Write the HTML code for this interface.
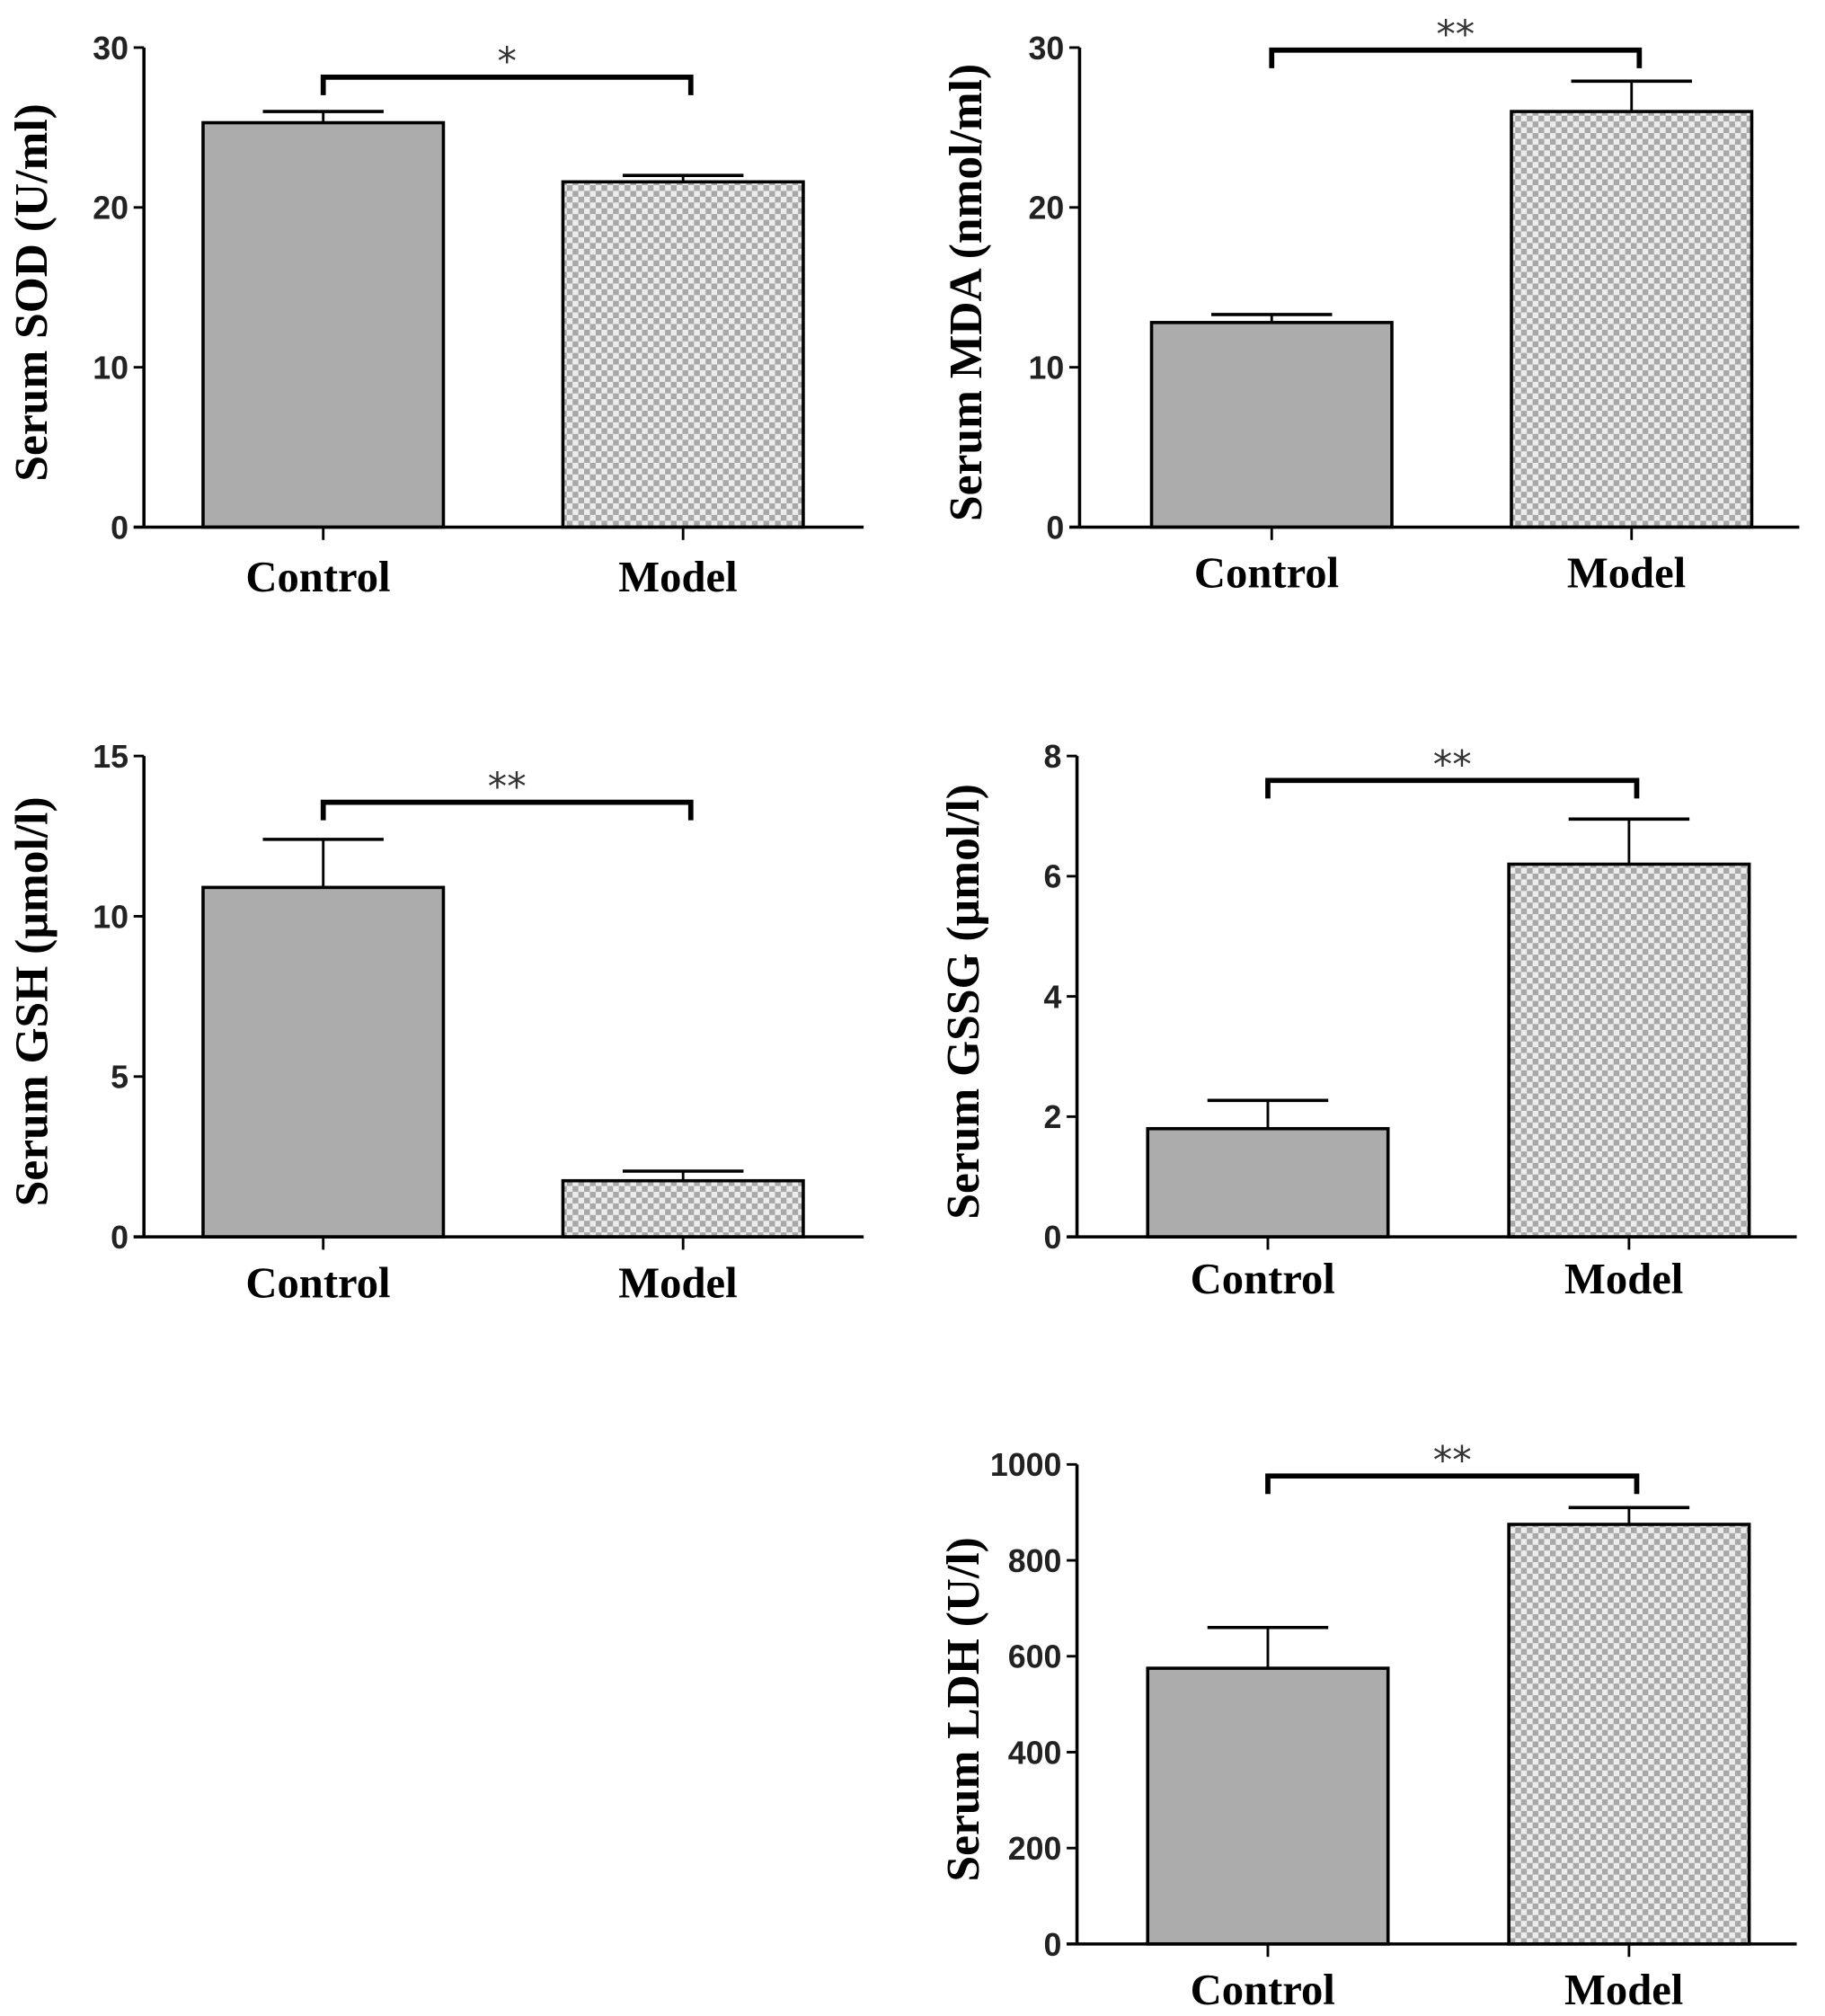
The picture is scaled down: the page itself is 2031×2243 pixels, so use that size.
<!DOCTYPE html>
<html><head><meta charset="utf-8"><style>
html,body{margin:0;padding:0;background:#fff;}
svg{display:block;}
</style></head><body>
<svg id="fig" width="2031" height="2243" viewBox="0 0 1420 1568" preserveAspectRatio="none" xmlns="http://www.w3.org/2000/svg">
<defs>
<pattern id="chk" patternUnits="userSpaceOnUse" width="9" height="9">
<rect width="9" height="9" fill="#ececec"/>
<rect width="4.5" height="4.5" fill="#a8a8a8"/>
<rect x="4.5" y="4.5" width="4.5" height="4.5" fill="#a8a8a8"/>
</pattern>
</defs>
</svg>
<script>
const categories = ["Control", "Model"];
const sodValues = [25.3, 21.6];
const sodErrors = [0.7, 0.4];
const mdaValues = [12.8, 26.0];
const mdaErrors = [0.5, 1.9];
const gshValues = [10.9, 1.75];
const gshErrors = [1.5, 0.3];
const gssgValues = [1.8, 6.2];
const gssgErrors = [0.47, 0.75];
const ldhValues = [575, 875];
const ldhErrors = [85, 35];
const sodTicks = [0, 10, 20, 30];
const mdaTicks = [0, 10, 20, 30];
const gshTicks = [0, 5, 10, 15];
const gssgTicks = [0, 2, 4, 6, 8];
const ldhTicks = [0, 200, 400, 600, 800, 1000];
const significance = ["*", "**", "**", "**", "**"];
const yTitles = ["Serum SOD (U/ml)", "Serum MDA (nmol/ml)", "Serum GSH (\u00b5mol/l)", "Serum GSSG (\u00b5mol/l)", "Serum LDH (U/l)"];

const NS = "http://www.w3.org/2000/svg";
const svg = document.getElementById("fig");
function mk(tag, attrs, parent) {
  const e = document.createElementNS(NS, tag);
  for (const k in attrs) e.setAttribute(k, attrs[k]);
  (parent || svg).appendChild(e);
  return e;
}
const panels = [
  {key:"sod", vals:sodValues, errs:sodErrors, ticks:sodTicks, ax:112, y0:410, yTop:37, bx:[158,438], bracketY:60, titleX:25, labelY:460},
  {key:"mda", vals:mdaValues, errs:mdaErrors, ticks:mdaTicks, ax:840, y0:410, yTop:37, bx:[896,1176], bracketY:39, titleX:752, labelY:457},
  {key:"gsh", vals:gshValues, errs:gshErrors, ticks:gshTicks, ax:112, y0:962, yTop:588, bx:[158,438], bracketY:624, titleX:25, labelY:1009},
  {key:"gssg", vals:gssgValues, errs:gssgErrors, ticks:gssgTicks, ax:838, y0:962, yTop:588, bx:[893,1174], bracketY:607, titleX:750, labelY:1006},
  {key:"ldh", vals:ldhValues, errs:ldhErrors, ticks:ldhTicks, ax:838, y0:1512, yTop:1139, bx:[893,1174], bracketY:1148, titleX:750, labelY:1559}
];
panels.forEach((p, i) => {
  const g = mk("g", {});
  
  
  const maxT = p.ticks[p.ticks.length - 1];
  const yS = v => p.y0 - (v / maxT) * (p.y0 - p.yTop);
  const bw = 187;
  p.vals.forEach((v, j) => {
    const x = p.bx[j];
    const yt = yS(v);
    const ye = yS(v + p.errs[j]);
    const cx = x + bw / 2;
    const el = mk("line", {x1:cx, y1:yt, x2:cx, y2:ye, stroke:"#000", "stroke-width":2}, g);
    
    
    mk("line", {x1:cx - 47, y1:ye, x2:cx + 47, y2:ye, stroke:"#000", "stroke-width":2.5}, g);
    const r = mk("rect", {x:x, y:yt, width:bw, height:p.y0 - yt, fill: j === 0 ? "#acacac" : "url(#chk)", stroke:"#000", "stroke-width":2.5}, g);
    
    
    mk("line", {x1:cx, y1:p.y0, x2:cx, y2:p.y0 + 10, stroke:"#000", "stroke-width":2}, g);
    const lab = mk("text", {x:cx - 4, y:p.labelY, "text-anchor":"middle", "font-family":"Liberation Serif, serif", "font-weight":"bold", "font-size":34}, g);
    lab.textContent = categories[j];
    
    
  });
  const ya = mk("line", {x1:p.ax, y1:p.yTop, x2:p.ax, y2:p.y0 + 1, stroke:"#000", "stroke-width":2.5}, g);
  
  
  const xa = mk("line", {x1:p.ax - 8, y1:p.y0, x2:p.ax + 560, y2:p.y0, stroke:"#000", "stroke-width":2.5}, g);
  
  
  p.ticks.forEach(t => {
    const y = yS(t);
    mk("line", {x1:p.ax - 8, y1:y, x2:p.ax, y2:y, stroke:"#000", "stroke-width":2}, g);
    const tl = mk("text", {x:p.ax - 12, y:y + 9, "text-anchor":"end", "font-family":"Liberation Sans, sans-serif", "font-size":25, "font-weight":"bold", fill:"#222"}, g);
    tl.textContent = t;
    
    
  });
  const cy = (p.y0 + p.yTop) / 2 + 4;
  const yt = mk("text", {x:p.titleX, y:cy, transform:`rotate(-90 ${p.titleX} ${cy})`, "text-anchor":"middle", "dominant-baseline":"central", "font-family":"Liberation Serif, serif", "font-weight":"bold", "font-size":36}, g);
  yt.textContent = yTitles[i];
  
  
  const x1 = p.bx[0] + bw / 2, x2 = p.bx[1] + bw / 2 + 6;
  const br = mk("path", {d:`M${x1},${p.bracketY + 14} V${p.bracketY} H${x2} V${p.bracketY + 14}`, fill:"none", stroke:"#000", "stroke-width":4}, g);
  
  
  const st = mk("text", {x:(x1 + x2) / 2, y:p.bracketY - 2, "text-anchor":"middle", "font-family":"DejaVu Sans, sans-serif", "font-size":30, fill:"#333"}, g);
  st.textContent = significance[i];
  
  
});
</script>
</body></html>
